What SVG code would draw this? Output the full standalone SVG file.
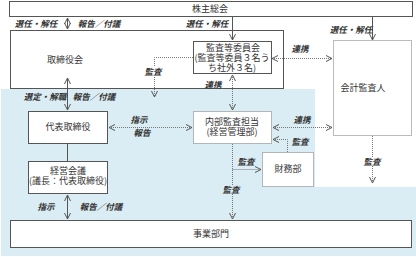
<svg xmlns="http://www.w3.org/2000/svg" width="416" height="257" viewBox="0 0 416 257">
<style>
text{font-family:"Noto Sans CJK JP","Noto Sans",sans-serif;fill:#333;text-anchor:middle;}
.n{font-size:9px;}
.l{font-size:8.5px;font-style:italic;font-weight:bold;}
.box{fill:#fff;stroke:#555;stroke-width:1;}
.dbox{fill:#fff;stroke:#777;stroke-width:1;stroke-dasharray:1 1;}
.s{fill:none;stroke:#555;stroke-width:1;}
.d{fill:none;stroke:#777;stroke-width:1;stroke-dasharray:1 1;}
.bgb{fill:#dbedf4;}
.bgw{fill:#fff;}
</style>
<defs>
<marker id="a" viewBox="0 0 8 8" refX="7" refY="4" markerWidth="8" markerHeight="8" orient="auto-start-reverse" markerUnits="userSpaceOnUse">
<path d="M1,1 L7,4 L1,7" fill="none" stroke="#555" stroke-width="1"/>
</marker>
</defs>
<rect width="416" height="257" fill="#fff"/>
<path class="bgb" d="M1,89 H315 V187 H416 V256 H1 Z"/>

<g id="kabunushi"><rect class="box" x="9.5" y="1.5" width="403" height="15"/><text class="n" x="210" y="12">株主総会</text></g>
<g id="torishimariyakukai"><rect class="box" x="10.5" y="30.5" width="273" height="58"/><text class="n" x="65" y="63">取締役会</text></g>
<g id="kansatou"><rect class="box" x="193.5" y="41.5" width="78" height="32"/>
<text class="n" x="232" y="51"><tspan x="233">監査等委員会</tspan><tspan x="232" dy="10">(監査等委員３名う</tspan><tspan x="232" dy="10">ち社外３名)</tspan></text></g>
<g id="kaikei"><rect class="dbox" x="333.5" y="40.5" width="78" height="95"/><text class="n" x="363" y="91">会計監査人</text></g>
<g id="daihyou"><rect class="box" x="28.5" y="111.5" width="79" height="32"/><text class="n" x="68" y="130">代表取締役</text></g>
<g id="naibu"><rect class="dbox" x="193.5" y="111.5" width="78" height="32"/><text class="n" x="232" y="125"><tspan x="232">内部監査担当</tspan><tspan x="232" dy="10">(経営管理部)</tspan></text></g>
<g id="keiei"><rect class="box" x="28.5" y="161.5" width="79" height="32"/><text class="n" x="68" y="174"><tspan x="68">経営会議</tspan><tspan x="68" dy="10">(議長：代表取締役)</tspan></text></g>
<g id="zaimu"><rect class="dbox" x="262.5" y="152.5" width="51" height="34"/><text class="n" x="288" y="172">財務部</text></g>
<g id="jigyou"><rect class="box" x="10.5" y="220.5" width="401" height="27"/><text class="n" x="211" y="237">事業部門</text></g>

<g id="connectors">
<path class="s" d="M67.5,18 V29" marker-start="url(#a)" marker-end="url(#a)"/>
<path class="s" d="M232.5,17 V40" marker-end="url(#a)"/>
<path class="s" d="M372.5,17 V40" marker-end="url(#a)"/>
<path class="d" d="M272,58.5 H332" marker-start="url(#a)" marker-end="url(#a)"/>
<path class="d" d="M193,57.5 H154.5 V97" marker-end="url(#a)"/>
<path class="d" d="M232.5,75 V110" marker-start="url(#a)" marker-end="url(#a)"/>
<path class="s" d="M67.5,78 V110" marker-start="url(#a)" marker-end="url(#a)"/>
<path class="d" d="M109,127.5 H192" marker-start="url(#a)" marker-end="url(#a)"/>
<path class="d" d="M273,127.5 H332" marker-start="url(#a)" marker-end="url(#a)"/>
<path class="d" d="M287.5,152 V139.5 H273" marker-end="url(#a)"/>
<path class="s" d="M67.5,144 V161"/>
<path class="d" d="M232.5,144 V219" marker-end="url(#a)"/>
<path class="d" d="M232.5,169.5 H261" marker-end="url(#a)"/>
<path class="d" d="M372.5,136 V183" marker-end="url(#a)"/>
<path class="s" d="M67.5,195 V219" marker-start="url(#a)" marker-end="url(#a)"/>
</g>

<g id="labels">
<text class="l" x="36" y="27">選任・解任</text>
<text class="l" x="99" y="27">報告／付議</text>
<text class="l" x="207" y="27">選任・解任</text>
<text class="l" x="351" y="33">選任・解任</text>
<text class="l" x="300" y="52">連携</text>
<rect class="bgw" x="145" y="67" width="17" height="9"/>
<text class="l" x="153" y="75">監査</text>
<text class="l" x="213" y="88">連携</text>
<text class="l" x="45" y="100">選定・解職</text>
<text class="l" x="94" y="100">報告／付議</text>
<text class="l" x="139" y="123">指示</text>
<text class="l" x="142" y="136">報告</text>
<text class="l" x="302" y="123">連携</text>
<text class="l" x="300" y="145">監査</text>
<text class="l" x="246" y="165">監査</text>
<rect class="bgb" x="223" y="185" width="17" height="9"/>
<text class="l" x="231" y="193">監査</text>
<rect class="bgw" x="364" y="157" width="17" height="9"/>
<text class="l" x="372" y="165">監査</text>
<text class="l" x="46" y="210">指示</text>
<text class="l" x="101" y="210">報告／付議</text>
</g>
</svg>
